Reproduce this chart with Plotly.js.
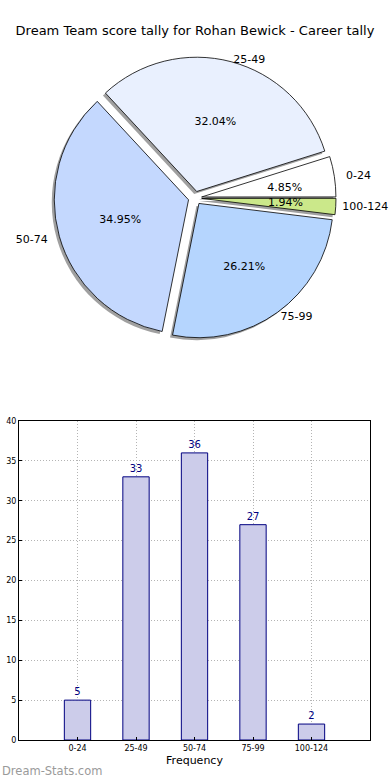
<!DOCTYPE html>
<html>
<head>
<meta charset="utf-8">
<script src="https://cdn.plot.ly/plotly-3.0.1.min.js"></script>
<style>html,body{margin:0;padding:0;background:#fff;}#chart{width:390px;height:780px;}</style>
</head>
<body>
<div id="chart"></div>
<script>
const categories = ["0-24", "25-49", "50-74", "75-99", "100-124"];
const counts = [5, 33, 36, 27, 2];
const sliceColors = ["#ffffff", "#e9f0fe", "#c4d8fe", "#b5d5fe", "#cbe88a"];
const titleText = "Dream Team score tally for Rohan Bewick - Career tally";

const W = 390, H = 780;
const cx = 195, cy = 198, half = 141;
const pull = 0.05;
const rot = 72.5;
const R = half / (1 + pull);           // main pie radius in px
function dom(hw, dx, dy) {
  return {x: [(cx - hw + dx) / W, (cx + hw + dx) / W], y: [(H - cy - hw - dy) / H, (H - cy + hw - dy) / H]};
}
const pctFrac = 0.47, lblFrac = 0.96;
const pctPull = pull / pctFrac;
// label offsets (styling): farther out sideways, like the wide original
const lblPulls = [0.16, 0.06, 0.16, 0.09, 0.12];
const lblMax = Math.max.apply(null, lblPulls);
const pieDomain = dom(half, 0, 0);
const shadowDomain = dom(half, -2.5, 2.5);
const pctDomain = dom(R * pctFrac * (1 + pctPull), 0, 0);
const labelDomain = dom(R * lblFrac * (1 + lblMax), 0, 0);
const font = "DejaVu Sans, sans-serif";

const common = {type: "pie", labels: categories, values: counts, sort: false,
  direction: "counterclockwise", rotation: rot, showlegend: false, hoverinfo: "skip"};
const clear = categories.map(() => "rgba(0,0,0,0)");

const shadow = Object.assign({}, common, {
  domain: shadowDomain, pull: pull,
  marker: {colors: categories.map(() => "#a0a0a0"), line: {width: 0}},
  textinfo: "none"
});
const pie = Object.assign({}, common, {
  domain: pieDomain, pull: pull,
  marker: {colors: sliceColors, line: {width: 0.8, color: "#000"}},
  texttemplate: "%{percent:.2%}",
  textposition: ["none", "inside", "inside", "inside", "none"],
  insidetextorientation: "horizontal",
  insidetextfont: {family: font, size: 11, color: "#000"}
});
const labelRing = Object.assign({}, common, {
  domain: labelDomain, pull: lblPulls,
  marker: {colors: clear, line: {width: 0}},
  textinfo: "label", textposition: "outside",
  outsidetextfont: {family: font, size: 11, color: "#000"}
});
const pctRing = Object.assign({}, common, {
  domain: pctDomain, pull: pctPull,
  marker: {colors: clear, line: {width: 0}},
  texttemplate: "%{percent:.2%}",
  textposition: ["outside", "none", "none", "none", "outside"],
  outsidetextfont: {family: font, size: 11, color: "#000"}
});
const bars = {
  type: "bar", x: categories, y: counts, width: 0.45,
  xaxis: "x", yaxis: "y",
  marker: {color: "#ccccea", line: {color: "#000080", width: 1}},
  text: counts.map(String), textposition: "outside", cliponaxis: false,
  textfont: {family: font, size: 10, color: "#000080"},
  showlegend: false
};

const axisCommon = {
  showline: true, mirror: true, linecolor: "#000", linewidth: 1,
  ticks: "inside", ticklen: 3, tickcolor: "#000",
  showgrid: true, gridcolor: "#b4b4b4", griddash: "1px,2px", gridwidth: 1,
  tickfont: {family: font, size: 8, color: "#000"},
  zeroline: false, fixedrange: true
};

const layout = {
  width: W, height: H,
  margin: {l: 0, r: 0, t: 0, b: 0},
  paper_bgcolor: "#fff", plot_bgcolor: "#fff",
  font: {family: font, color: "#000"},
  title: {text: titleText, font: {family: font, size: 13, color: "#000"}, x: 0.5, xanchor: "center", y: 1 - 30 / H, yanchor: "middle"},
  xaxis: Object.assign({}, axisCommon, {
    domain: [19 / W, 370 / W], type: "category", range: [-1, 5],
    title: {text: "Frequency", font: {family: font, size: 11, color: "#000"}, standoff: 4}
  }),
  yaxis: Object.assign({}, axisCommon, {
    domain: [1 - 740 / H, 1 - 421 / H], range: [0, 40], dtick: 5
  }),
  annotations: [{
    text: "Dream-Stats.com", xref: "paper", yref: "paper", x: 0, y: 0,
    xanchor: "left", yanchor: "bottom", showarrow: false,
    font: {family: font, size: 11.5, color: "#9a9a9a"}
  }]
};

Plotly.newPlot("chart", [shadow, pie, labelRing, pctRing, bars], layout, {staticPlot: true, displayModeBar: false});
</script>
</body>
</html>
